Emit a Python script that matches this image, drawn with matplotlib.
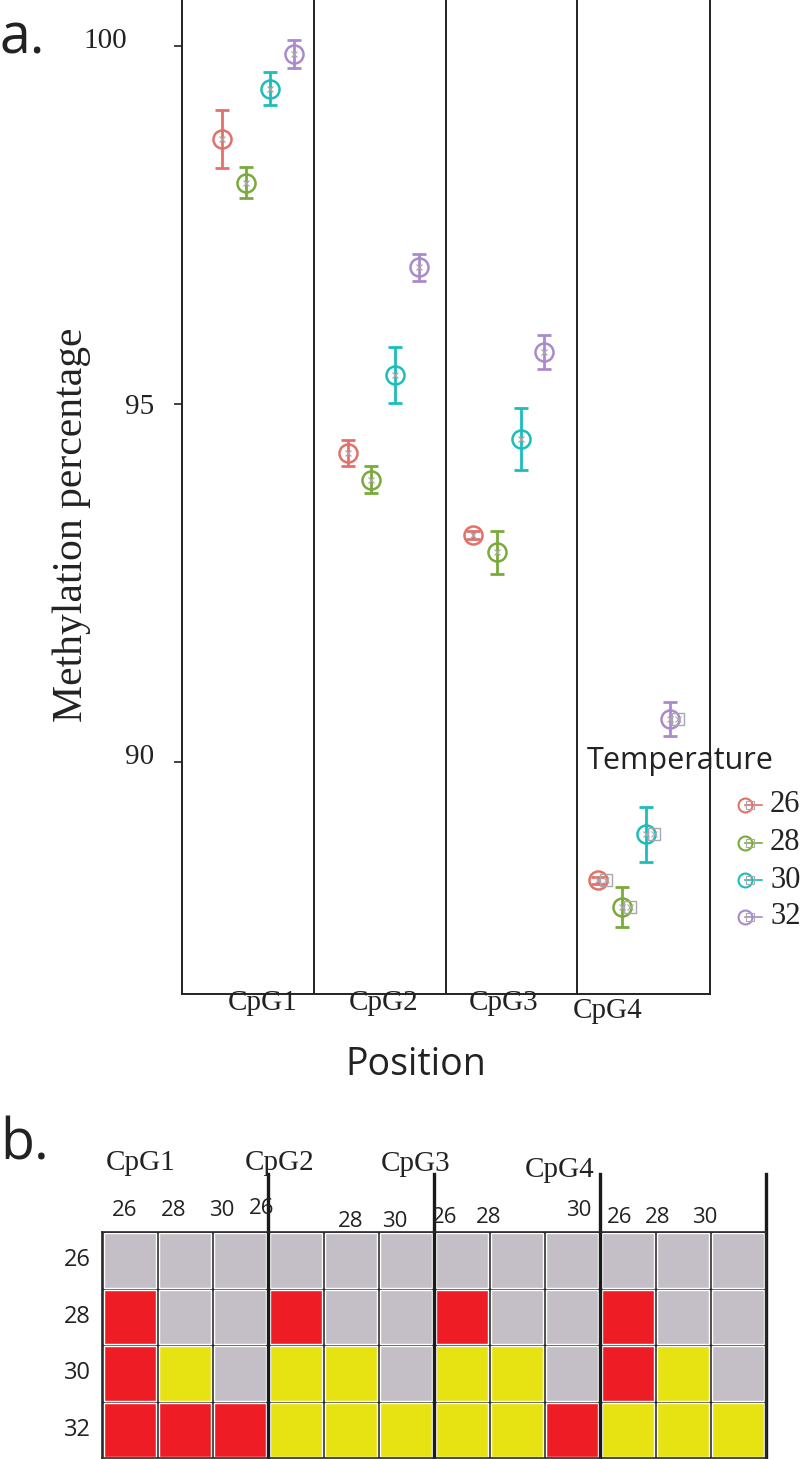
import matplotlib
matplotlib.use("Agg")
import matplotlib.pyplot as plt
import matplotlib.transforms as mtransforms
from matplotlib.patches import Rectangle
import numpy as np

# ---------------- data ----------------
positions = ["CpG1", "CpG2", "CpG3", "CpG4"]
temps = ["26", "28", "30", "32"]
means_26 = [98.70, 94.32, 93.17, 88.35]
means_28 = [98.09, 93.94, 92.93, 87.98]
means_30 = [99.40, 95.41, 94.51, 88.99]
means_32 = [99.89, 96.91, 95.73, 90.60]
err_26 = [0.40, 0.18, 0.05, 0.05]
err_28 = [0.22, 0.19, 0.30, 0.28]
err_30 = [0.23, 0.39, 0.43, 0.38]
err_32 = [0.20, 0.19, 0.24, 0.24]
yticks = [90, 95, 100]

# heatmap (0 = grey, 1 = red, 2 = yellow)
heat_rows = ["26", "28", "30", "32"]
heat_col_temps = ["26", "28", "30"]
row_26 = [0, 0, 0, 0, 0, 0, 0, 0, 0, 0, 0, 0]
row_28 = [1, 0, 0, 1, 0, 0, 1, 0, 0, 1, 0, 0]
row_30 = [1, 2, 0, 2, 2, 0, 2, 2, 0, 1, 2, 0]
row_32 = [1, 1, 1, 2, 2, 2, 2, 2, 1, 2, 2, 2]

colors = ["#E2716A", "#7AAB3A", "#1DBDB8", "#A98BCB"]
heat_colors = {0: "#C4BFC7", 1: "#EE1C24", 2: "#E7E313"}

W, H = 800, 1459
fig = plt.figure(figsize=(W / 100, H / 100), dpi=100)

def fx(px):
    return px / W

def fy(py):
    return 1 - py / H

SERIF = ["Liberation Serif", "DejaVu Serif"]
SANS = ["Open Sans", "DejaVu Sans"]
INK = "#222222"

# ---------------- panel a ----------------
ax_l, ax_r, ax_t, ax_b = 182, 710, 0, 994
ax = fig.add_axes([fx(ax_l), fy(ax_b), fx(ax_r) - fx(ax_l), (ax_b - ax_t) / H])
ax.set_xlim(0.394, 4.606)
ax.set_ylim(86.76, 100.642)

means = [means_26, means_28, means_30, means_32]
errs = [err_26, err_28, err_30, err_32]
dodge = 0.19
xs_base = np.arange(1, len(positions) + 1)
for k in range(len(temps)):
    xk = xs_base + (k - 1.5) * dodge
    ax.errorbar(xk, means[k], yerr=errs[k], fmt="none", ecolor=colors[k],
                elinewidth=2.0, capsize=5, capthick=2.0, zorder=3)
    ax.plot(xk, means[k], "o", ms=13, mfc="none", mec=colors[k], mew=1.8, zorder=4)
    ax.plot(xk, means[k], "x", ms=5, color="#B0A8B0", mew=0.9, zorder=5)
    ax.plot([xk[-1] + 0.065], [means[k][-1]], "s", ms=8, mfc="none", mec="#A8A8B0",
            mew=1.0, zorder=5)
    ax.plot([xk[-1] + 0.065], [means[k][-1]], "x", ms=5, color="#A8A8B0", mew=0.8, zorder=5)

for sx in [1.447, 2.5, 3.545]:
    ax.axvline(sx, color=INK, lw=1.4, zorder=1)

ax.spines["top"].set_visible(False)
for s in ["left", "right", "bottom"]:
    ax.spines[s].set_color(INK)
    ax.spines[s].set_linewidth(1.4)

ax.set_yticks(yticks)
ax.set_yticklabels([str(t) for t in yticks], fontfamily=SERIF, fontsize=21)
ax.tick_params(axis="y", length=6, width=1.2, pad=14, color=INK, labelcolor=INK)
ylab_off = {90: (0, 8), 95: (0, 0), 100: (-27, 8)}
for t, lab in zip(yticks, ax.get_yticklabels()):
    dx, dy = ylab_off[t]
    off = mtransforms.ScaledTranslation(dx / 100, dy / 100, fig.dpi_scale_trans)
    lab.set_transform(lab.get_transform() + off)

ax.set_xticks([])
lab_dx = [0.04, 0.0, -0.04, -0.21]
lab_base = [1010, 1010, 1010, 1018]
for i, p in enumerate(positions):
    ax.annotate(p, xy=(xs_base[i] + lab_dx[i], 0), xycoords=("data", "axes fraction"),
                xytext=(0, -(lab_base[i] - ax_b)), textcoords="offset pixels",
                ha="center", va="baseline", fontsize=21, fontfamily=SERIF, color=INK)

fig.text(fx(72), fy(525), "Methylation percentage", rotation=90, ha="center", va="center",
         fontsize=30, fontfamily=SERIF, color=INK)
fig.text(fx(416), fy(1075), "Position", ha="center", va="baseline",
         fontsize=27, fontfamily=SANS, color=INK)
fig.text(fx(0), fy(53), "a.", ha="left", va="baseline", fontsize=40, fontfamily=SANS,
         color=INK)

# legend
fig.text(fx(587), fy(761), "Temperature", ha="left", va="center", fontsize=22,
         fontfamily=SANS, color=INK)
leg_ax = fig.add_axes([0, 0, 1, 1], facecolor="none")
leg_ax.set_xlim(0, W)
leg_ax.set_ylim(H, 0)
leg_ax.axis("off")
leg_y = [805, 843, 880, 917]
for k, t in enumerate(temps):
    leg_ax.plot([745, 762], [leg_y[k], leg_y[k]], color=colors[k], lw=1.2)
    leg_ax.plot([745], [leg_y[k]], "o", ms=10, mfc="none", mec=colors[k], mew=1.5)
    leg_ax.plot([750], [leg_y[k]], "s", ms=6, mfc="none", mec="#A8A8B0", mew=0.8)
    leg_ax.text(770, leg_y[k], t, ha="left", va="center", fontsize=22,
                fontfamily=SERIF, color=INK)

# ---------------- panel b ----------------
hx_l, hx_r, hy_t, hy_b = 102, 766, 1232, 1458
hax = fig.add_axes([fx(hx_l), fy(hy_b), fx(hx_r) - fx(hx_l), (hy_b - hy_t) / H])
rows = [row_26, row_28, row_30, row_32]
ncol = len(row_26)
nrow = len(rows)
hax.set_xlim(0, ncol)
hax.set_ylim(nrow, 0)
hax.set_facecolor("#2a2a2a")
for r in range(nrow):
    for c in range(ncol):
        hax.add_patch(Rectangle((c + 0.03, r + 0.02), 0.94, 0.965,
                                facecolor=heat_colors[rows[r][c]], edgecolor="white", lw=1.0))
hax.set_xticks([])
hax.set_yticks([])
for s in hax.spines.values():
    s.set_color("#2a2a2a")
    s.set_linewidth(1.2)
for gx in [3, 6, 9, 12]:
    hax.plot([gx, gx], [nrow, -1.02], color="#1a1a1a", lw=2.4, clip_on=False)

for r, lab in enumerate(heat_rows):
    hax.annotate(lab, xy=(0, r + 0.5), xycoords="data", xytext=(-11, 0),
                 textcoords="offset pixels", ha="right", va="center",
                 fontsize=17, fontfamily=SANS, color=INK)

col_label_x = [125, 174, 222, 262, 351, 395, 445, 489, 579, 620, 658, 705]
col_label_top = [1200, 1200, 1200, 1198, 1211, 1211, 1207, 1207, 1200, 1207, 1207, 1207]
for i in range(ncol):
    fig.text(fx(col_label_x[i]), fy(col_label_top[i]), heat_col_temps[i % 3], ha="center",
             va="top", fontsize=16, fontfamily=SANS, color=INK)
grp_x = [141, 280, 416, 560]
grp_base = [1170, 1170, 1171, 1177]
for i, p in enumerate(positions):
    fig.text(fx(grp_x[i]), fy(grp_base[i]), p, ha="center", va="baseline", fontsize=21,
             fontfamily=SERIF, color=INK)
fig.text(fx(0), fy(1160), "b.", ha="left", va="baseline", fontsize=40, fontfamily=SANS,
         color=INK)

fig.savefig("out.png", dpi=100, facecolor="white")
